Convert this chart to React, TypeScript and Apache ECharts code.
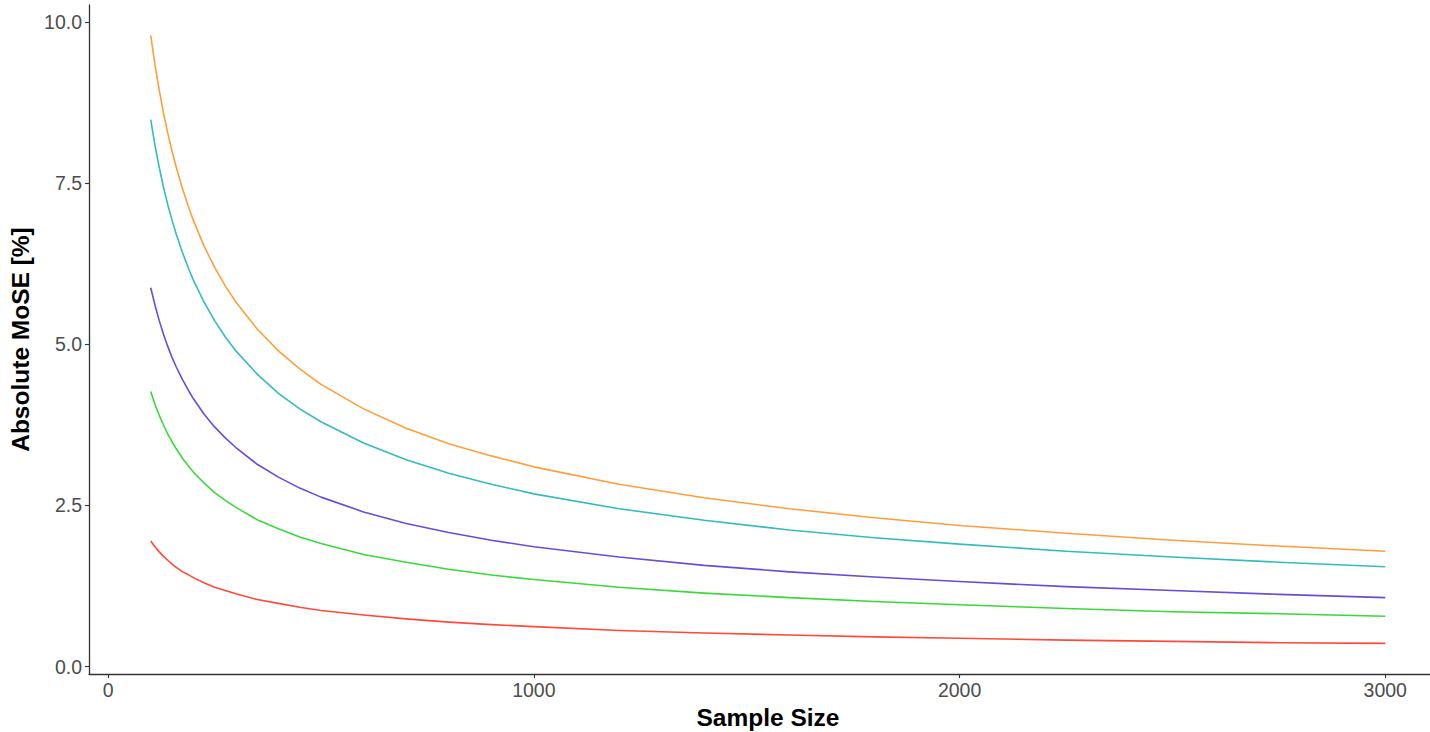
import React, { useEffect, useRef } from "react";
import * as echarts from "echarts";

const sampleSizes = [100, 110, 120, 130, 140, 150, 160, 175, 190, 200, 225, 250, 275, 300, 350, 400, 450, 500, 600, 700, 800, 900, 1000, 1200, 1400, 1600, 1800, 2000, 2250, 2500, 2750, 3000];

const orangeValues = [9.80, 9.34, 8.95, 8.59, 8.28, 8.00, 7.75, 7.41, 7.11, 6.93, 6.53, 6.20, 5.91, 5.66, 5.24, 4.90, 4.62, 4.38, 4.00, 3.70, 3.46, 3.27, 3.10, 2.83, 2.62, 2.45, 2.31, 2.19, 2.07, 1.96, 1.87, 1.79];
const cyanValues = [8.49, 8.09, 7.75, 7.44, 7.17, 6.93, 6.71, 6.42, 6.16, 6.00, 5.66, 5.37, 5.12, 4.90, 4.54, 4.24, 4.00, 3.80, 3.47, 3.21, 3.00, 2.83, 2.68, 2.45, 2.27, 2.12, 2.00, 1.90, 1.79, 1.70, 1.62, 1.55];
const purpleValues = [5.88, 5.61, 5.37, 5.16, 4.97, 4.80, 4.65, 4.45, 4.27, 4.16, 3.92, 3.72, 3.55, 3.40, 3.14, 2.94, 2.77, 2.63, 2.40, 2.22, 2.08, 1.96, 1.86, 1.70, 1.57, 1.47, 1.39, 1.32, 1.24, 1.18, 1.12, 1.07];
const greenValues = [4.27, 4.07, 3.90, 3.75, 3.61, 3.49, 3.38, 3.23, 3.10, 3.02, 2.85, 2.70, 2.58, 2.47, 2.28, 2.14, 2.01, 1.91, 1.74, 1.62, 1.51, 1.42, 1.35, 1.23, 1.14, 1.07, 1.01, 0.96, 0.90, 0.85, 0.82, 0.78];
const redValues = [1.95, 1.86, 1.78, 1.71, 1.65, 1.59, 1.54, 1.47, 1.42, 1.38, 1.30, 1.23, 1.18, 1.13, 1.04, 0.98, 0.92, 0.87, 0.80, 0.74, 0.69, 0.65, 0.62, 0.56, 0.52, 0.49, 0.46, 0.44, 0.41, 0.39, 0.37, 0.36];

const xTicks = [0, 1000, 2000, 3000];
const yTicks = [0, 2.5, 5, 7.5, 10];

const seriesDefs = [
  { name: "p50", color: "#FF9E3A", values: orangeValues },
  { name: "p25", color: "#33BCBC", values: cyanValues },
  { name: "p10", color: "#6A4CD8", values: purpleValues },
  { name: "p5", color: "#3AD93A", values: greenValues },
  { name: "p1", color: "#FF4A38", values: redValues },
];

const FONT = "Liberation Sans";

export default function App() {
  const ref = useRef<HTMLDivElement>(null);
  useEffect(() => {
    if (!ref.current) return;
    const chart = echarts.init(ref.current, null, { renderer: "svg" });
    const axisColor = "#333333";
    const labelColor = "#4D4D4D";
    chart.setOption({
      animation: false,
      backgroundColor: "#ffffff",
      textStyle: { fontFamily: FONT },
      grid: { left: 89, right: -17, top: 5, bottom: 58, containLabel: false, outerBoundsMode: "none" },
      xAxis: {
        type: "value",
        min: -45,
        max: 3145,
        name: "Sample Size",
        nameLocation: "middle",
        nameGap: 23,
        nameTextStyle: { fontFamily: FONT, fontWeight: "bold", fontSize: 24.5, color: "#000000" },
        splitLine: { show: false },
        axisLine: { show: true, onZero: false, lineStyle: { color: axisColor, width: 1.3 } },
        axisTick: { show: true, length: 4, lineStyle: { color: axisColor, width: 1.1 }, customValues: xTicks },
        axisLabel: {
          customValues: xTicks,
          color: labelColor,
          fontSize: 19.5,
          fontFamily: FONT,
          margin: 6,
          formatter: (v: number) => String(v),
        },
      },
      yAxis: {
        type: "value",
        min: -0.116,
        max: 10.27,
        name: "Absolute MoSE [%]",
        nameLocation: "middle",
        nameGap: 47,
        nameRotate: 90,
        nameTextStyle: { fontFamily: FONT, fontWeight: "bold", fontSize: 24.5, color: "#000000" },
        splitLine: { show: false },
        axisLine: { show: true, onZero: false, lineStyle: { color: axisColor, width: 1.3 } },
        axisTick: { show: true, length: 4, lineStyle: { color: axisColor, width: 1.1 }, customValues: yTicks },
        axisLabel: {
          customValues: yTicks,
          color: labelColor,
          fontSize: 19.5,
          fontFamily: FONT,
          margin: 7,
          formatter: (v: number) => v.toFixed(1),
        },
      },
      series: seriesDefs.map((s) => ({
        name: s.name,
        type: "line",
        smooth: false,
        showSymbol: false,
        symbol: "none",
        lineStyle: { color: s.color, width: 1.6, join: "round" },
        itemStyle: { color: s.color },
        data: sampleSizes.map((n, i) => [n, s.values[i]]),
      })),
    });
    return () => chart.dispose();
  }, []);
  return (
    <div
      ref={ref}
      style={{ position: "fixed", left: 0, top: 0, width: 1430, height: 732, background: "#fff" }}
    />
  );
}
